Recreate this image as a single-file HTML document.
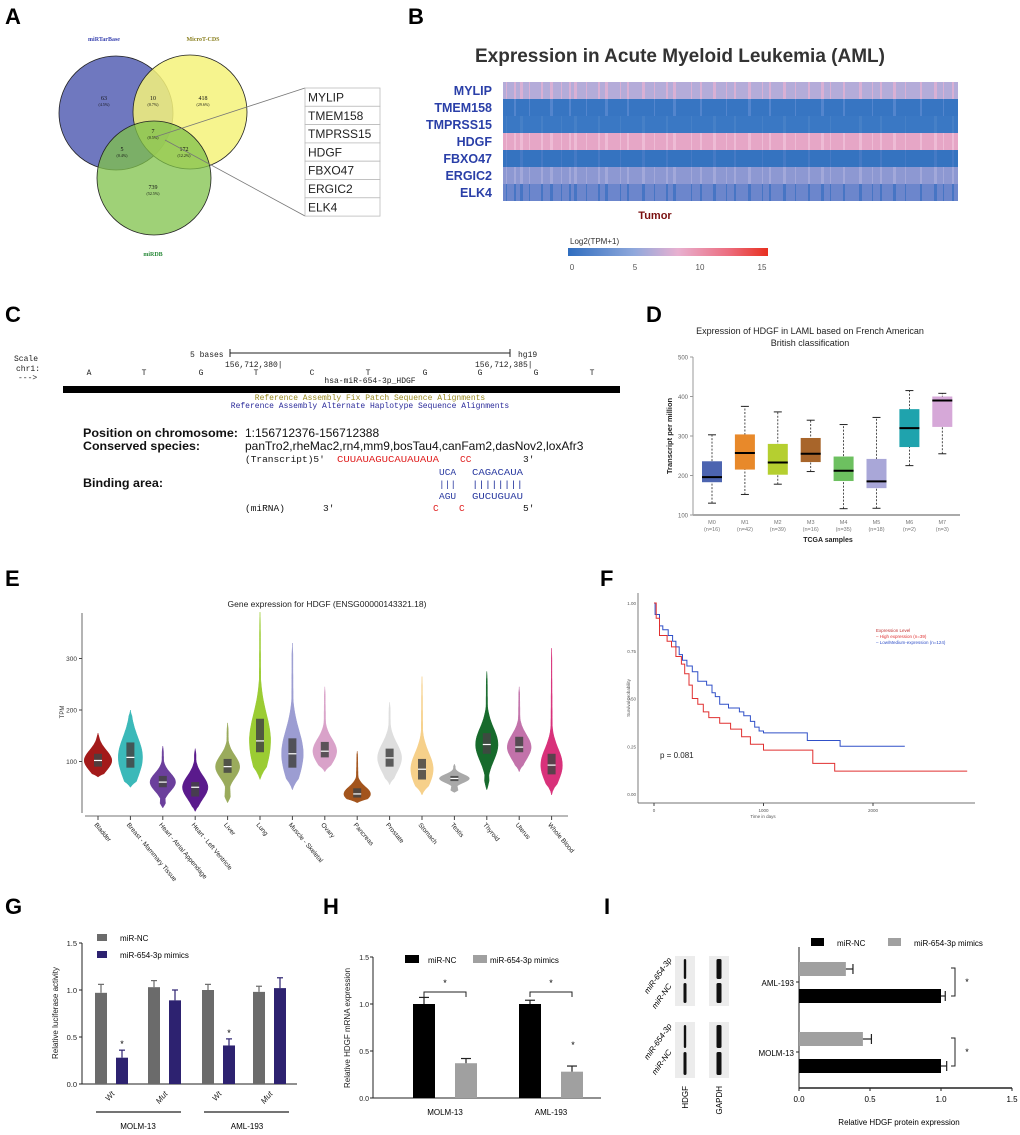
<!DOCTYPE html>
<html><head><meta charset="utf-8"><style>
html,body{margin:0;padding:0;background:#fff}
svg{display:block;font-family:"Liberation Sans",sans-serif}
.mono{font-family:"Liberation Mono",monospace}
.serif{font-family:"Liberation Serif",serif}
</style></head><body>
<svg id="fig" width="1020" height="1135" viewBox="0 0 1020 1135" xmlns="http://www.w3.org/2000/svg">
<rect width="1020" height="1135" fill="#fff"/>
<g font-size="22" font-weight="bold" fill="#000">
<text x="5" y="24">A</text>
<text x="408" y="24">B</text>
<text x="5" y="322">C</text>
<text x="646" y="322">D</text>
<text x="5" y="586">E</text>
<text x="600" y="586">F</text>
<text x="5" y="914">G</text>
<text x="323" y="914">H</text>
<text x="604" y="914">I</text>
</g>

<g class="serif">
<circle cx="116" cy="113" r="57" fill="#6f78bf" stroke="#222" stroke-width="0.8"/>
<circle cx="190" cy="112" r="57" fill="#f4f27a" fill-opacity="0.85" stroke="#222" stroke-width="0.8"/>
<circle cx="154" cy="178" r="57" fill="#7fc24a" fill-opacity="0.75" stroke="#222" stroke-width="0.8"/>
<text x="104" y="41" font-size="6" fill="#3a44b0" text-anchor="middle" font-weight="bold">miRTarBase</text>
<text x="203" y="41" font-size="6" fill="#8a8020" text-anchor="middle" font-weight="bold">MicroT-CDS</text>
<text x="153" y="256" font-size="6" fill="#2a8a3a" text-anchor="middle" font-weight="bold">miRDB</text>
<g font-size="6" text-anchor="middle" fill="#111">
<text x="104" y="100">63</text><text x="104" y="106" font-size="4">(4.5%)</text>
<text x="153" y="100">10</text><text x="153" y="106" font-size="4">(0.7%)</text>
<text x="203" y="100">418</text><text x="203" y="106" font-size="4">(29.6%)</text>
<text x="153" y="133">7</text><text x="153" y="139" font-size="4">(0.5%)</text>
<text x="122" y="151">5</text><text x="122" y="157" font-size="4">(0.4%)</text>
<text x="184" y="151">172</text><text x="184" y="157" font-size="4">(12.2%)</text>
<text x="153" y="189">739</text><text x="153" y="195" font-size="4">(52.5%)</text>
</g>
<line x1="155" y1="137" x2="305" y2="88" stroke="#777" stroke-width="0.8"/>
<line x1="165" y1="140" x2="305" y2="216" stroke="#777" stroke-width="0.8"/>
</g>
<g id="genebox"></g>

<g>
<text x="680" y="62" font-size="19" font-weight="bold" fill="#333" text-anchor="middle">Expression in Acute Myeloid Leukemia (AML)</text>
<g id="heat"></g>
<text x="655" y="219" font-size="11" font-weight="bold" fill="#7a1010" text-anchor="middle">Tumor</text>
<text x="570" y="244" font-size="8" fill="#333">Log2(TPM+1)</text>
<defs><linearGradient id="cbar"><stop offset="0" stop-color="#2f6dbf"/><stop offset="0.33" stop-color="#8fa8dc"/><stop offset="0.55" stop-color="#e8b0d0"/><stop offset="0.8" stop-color="#ec6e80"/><stop offset="1" stop-color="#e83020"/></linearGradient></defs>
<rect x="568" y="248" width="200" height="8" fill="url(#cbar)"/>
<g font-size="8" fill="#555" text-anchor="middle"><text x="572" y="270">0</text><text x="635" y="270">5</text><text x="700" y="270">10</text><text x="762" y="270">15</text></g>
</g>

<g>
<g class="mono" font-size="8" fill="#222">
<text x="14" y="361">Scale</text><text x="16" y="371">chr1:</text><text x="18" y="380">---&gt;</text>
<text x="190" y="357">5 bases</text><text x="518" y="357">hg19</text>
<text x="225" y="367">156,712,380|</text><text x="475" y="367">156,712,385|</text>
<g text-anchor="middle"><text x="89" y="375">A</text><text x="144" y="375">T</text><text x="201" y="375">G</text><text x="256" y="375">T</text><text x="312" y="375">C</text><text x="368" y="375">T</text><text x="425" y="375">G</text><text x="480" y="375">G</text><text x="536" y="375">G</text><text x="592" y="375">T</text>
<text x="370" y="383">hsa-miR-654-3p_HDGF</text>
<text x="370" y="400" fill="#9a8a20">Reference Assembly Fix Patch Sequence Alignments</text>
<text x="370" y="408" fill="#2a2a9a">Reference Assembly Alternate Haplotype Sequence Alignments</text></g>
</g>
<line x1="230" y1="353" x2="510" y2="353" stroke="#222"/><line x1="230" y1="349" x2="230" y2="357" stroke="#222"/><line x1="510" y1="349" x2="510" y2="357" stroke="#222"/>
<rect x="63" y="386" width="557" height="7" fill="#000"/>
<g font-size="12" fill="#111">
<text x="83" y="437" font-weight="bold" textLength="155" lengthAdjust="spacingAndGlyphs">Position on chromosome:</text>
<text x="245" y="437">1:156712376-156712388</text>
<text x="83" y="450" font-weight="bold" textLength="117" lengthAdjust="spacingAndGlyphs">Conserved species:</text>
<text x="245" y="450">panTro2,rheMac2,rn4,mm9,bosTau4,canFam2,dasNov2,loxAfr3</text>
<text x="83" y="487" font-weight="bold" textLength="80" lengthAdjust="spacingAndGlyphs">Binding area:</text>
</g>
<g class="mono" font-size="9.5" fill="#111">
<text x="245" y="462">(Transcript)5'</text>
<text x="337" y="462" fill="#e02020" textLength="102" lengthAdjust="spacingAndGlyphs">CUUAUAGUCAUAUAUA</text>
<text x="460" y="462" fill="#e02020">CC</text><text x="523" y="462">3'</text>
<text x="439" y="475" fill="#2a3aa0">UCA</text><text x="472" y="475" fill="#2a3aa0" textLength="51" lengthAdjust="spacingAndGlyphs">CAGACAUA</text>
<text x="439" y="487" fill="#2a3aa0">|||</text><text x="472" y="487" fill="#2a3aa0" textLength="51" lengthAdjust="spacingAndGlyphs">||||||||</text>
<text x="439" y="499" fill="#2a3aa0">AGU</text><text x="472" y="499" fill="#2a3aa0" textLength="51" lengthAdjust="spacingAndGlyphs">GUCUGUAU</text>
<text x="245" y="511">(miRNA)</text><text x="323" y="511">3'</text>
<text x="433" y="511" fill="#e02020">C</text><text x="459" y="511" fill="#e02020">C</text><text x="523" y="511">5'</text>
</g>
</g>

<g id="pD"></g>
<g id="pE"></g>
<g id="pF"></g>
<g id="pG"></g>
<g id="pH"></g>
<g id="pI"></g>
</svg>
<script>
const NS="http://www.w3.org/2000/svg";
function mk(tag,attrs,parent,txt){const e=document.createElementNS(NS,tag);for(const k in attrs)e.setAttribute(k,attrs[k]);if(txt!==undefined)e.textContent=txt;parent.appendChild(e);return e;}

const genes=["MYLIP","TMEM158","TMPRSS15","HDGF","FBXO47","ERGIC2","ELK4"];
const gb=document.getElementById('genebox');
genes.forEach((g,i)=>{const y=88+i*18.3;
 const r=mk('rect',{x:305,y:y,width:75,height:18.3,fill:'#fff',stroke:'#bbb','stroke-width':0.8},gb);
 
 
 mk('text',{x:308,y:y+13.5,'font-size':12,fill:'#222'},gb,g);});

const heatGenes=["MYLIP","TMEM158","TMPRSS15","HDGF","FBXO47","ERGIC2","ELK4"];
const heatBase=["#b4acd9","#3775c2","#3a78c4","#e6a6c6","#3573c0","#8d98d2","#6c86cc"];
const heatAlt=["#e2b2d2","#5a8ad0","#4a82c8","#f0c0d8","#4a7cc6","#a8acdc","#3f70c2"];
const stripePos=[3,11,17,26,38,47,58,66,71,83,95,102,117,124,139,151,163,170,188,197,210,223,231,245,259,266,280,292,305,318,327,340,356,369,377,390,402,417,431,440,449];
const H=document.getElementById('heat');
heatGenes.forEach((g,i)=>{const y=82+i*17;
 const r=mk('rect',{x:503,y:y,width:455,height:17,fill:heatBase[i]},H);
 
 
 stripePos.forEach((p,j)=>{if((j+i)%2===0||i===0||i===3||i===5||i===6) mk('rect',{x:503+p,y:y,width:(j%3)+1,height:17,fill:heatAlt[i],opacity:0.8},H);});
 const t=mk('text',{x:492,y:y+13,'font-size':12.5,'font-weight':'bold',fill:'#2a3fa8','text-anchor':'end'},H,g);
 
 
});

const dCats=["M0","M1","M2","M3","M4","M5","M6","M7"];
const dN=["(n=16)","(n=42)","(n=39)","(n=16)","(n=35)","(n=18)","(n=2)","(n=3)"];
const dMin=[130,152,178,210,116,117,225,255];
const dQ1=[183,215,202,234,186,168,272,323];
const dMed=[196,257,233,255,212,185,320,390];
const dQ3=[236,304,280,295,248,242,368,400];
const dMax=[303,375,361,340,329,347,415,408];
const dColors=["#4c64b0","#e8892a","#b5cf30","#a8652a","#6dc060","#a9a7d8","#1fa3ad","#d6a8d8"];
const dTicks=[100,200,300,400,500];
(function(){const P=document.getElementById('pD');
 const y=v=>515-(v-100)*(158/400), x=i=>712+i*32.9;
 mk('text',{x:810,y:334,'font-size':9,'text-anchor':'middle',fill:'#222'},P,'Expression of HDGF in LAML based on French American');
 mk('text',{x:810,y:346,'font-size':9,'text-anchor':'middle',fill:'#222'},P,'British classification');
 mk('line',{x1:693,y1:357,x2:693,y2:515,stroke:'#999'},P);
 mk('line',{x1:693,y1:515,x2:960,y2:515,stroke:'#aaa','stroke-width':2},P);
 dTicks.forEach(t=>{mk('line',{x1:690,y1:y(t),x2:693,y2:y(t),stroke:'#999'},P);mk('text',{x:688,y:y(t)+2.5,'font-size':6,fill:'#666','text-anchor':'end'},P,t);});
 const yl=mk('text',{x:0,y:0,'font-size':7.5,'font-weight':'bold',fill:'#222','text-anchor':'middle',transform:'translate(672,436) rotate(-90)'},P,'Transcript per million');
 
 
 dCats.forEach((c,i)=>{const cx=x(i);
  mk('line',{x1:cx,y1:y(dMin[i]),x2:cx,y2:y(dMax[i]),stroke:'#222','stroke-dasharray':'2,1.5','stroke-width':0.8},P);
  mk('line',{x1:cx-4,y1:y(dMin[i]),x2:cx+4,y2:y(dMin[i]),stroke:'#222'},P);
  mk('line',{x1:cx-4,y1:y(dMax[i]),x2:cx+4,y2:y(dMax[i]),stroke:'#222'},P);
  const b=mk('rect',{x:cx-10,y:y(dQ3[i]),width:20,height:y(dQ1[i])-y(dQ3[i]),fill:dColors[i]},P);
  
  
  mk('line',{x1:cx-10,y1:y(dMed[i]),x2:cx+10,y2:y(dMed[i]),stroke:'#000','stroke-width':2},P);
  mk('text',{x:cx,y:524,'font-size':5.5,fill:'#777','text-anchor':'middle'},P,c);
  mk('text',{x:cx,y:531,'font-size':5.5,fill:'#777','text-anchor':'middle'},P,dN[i]);
 });
 mk('text',{x:828,y:542,'font-size':7,'font-weight':'bold',fill:'#222','text-anchor':'middle'},P,'TCGA samples');
})();

const eCats=["Bladder","Breast - Mammary Tissue","Heart - Atrial Appendage","Heart - Left Ventricle","Liver","Lung","Muscle - Skeletal","Ovary","Pancreas","Prostate","Stomach","Testis","Thyroid","Uterus","Whole Blood"];
const eMin=[70,50,10,3,20,65,45,80,20,55,35,40,45,80,35];
const eQ1=[90,88,50,32,78,118,88,108,30,90,65,62,115,118,75];
const eMed=[102,108,60,50,90,140,115,120,37,107,85,67,133,128,93];
const eQ3=[115,137,72,60,105,183,145,138,48,125,105,72,155,148,115];
const eMax=[155,200,130,125,175,390,330,245,120,215,265,95,275,245,320];
const eColors=["#a31a1a","#3bb9b9","#6b3f9c","#5a1a8c","#9aab5c","#9bcc33","#9c9dd2","#d9a2c9","#a3541c","#dedede","#f6d08a","#a9a9a9","#176a2c","#c272aa","#d8317a"];
const eTicks=[100,200,300];
(function(){const P=document.getElementById('pE');
 const y=v=>813-v*0.515, x=i=>98+i*32.4;
 mk('text',{x:327,y:607,'font-size':8.5,fill:'#222','text-anchor':'middle'},P,'Gene expression for HDGF (ENSG00000143321.18)');
 mk('line',{x1:82,y1:613,x2:82,y2:813,stroke:'#444','stroke-width':0.8},P);
 mk('line',{x1:85,y1:816,x2:568,y2:816,stroke:'#444','stroke-width':0.8},P);
 eTicks.forEach(t=>{mk('line',{x1:79,y1:y(t),x2:82,y2:y(t),stroke:'#444'},P);mk('text',{x:77,y:y(t)+2.5,'font-size':6.5,fill:'#333','text-anchor':'end'},P,t);});
 mk('text',{x:0,y:0,'font-size':6,fill:'#333','text-anchor':'middle',transform:'translate(64,712) rotate(-90)'},P,'TPM');
 eCats.forEach((c,i)=>{const cx=x(i);const sd=Math.max((eQ3[i]-eQ1[i])*0.8,8);
  const W=Math.min(15,9+600/(eMax[i]-eMin[i]+40));
  const L=[],R=[];const N=40;
  for(let k=0;k<=N;k++){const v=eMin[i]+(eMax[i]-eMin[i])*k/N;
   let w=Math.exp(-0.5*Math.pow((v-eMed[i])/sd,2));w=Math.max(w,0.12*Math.exp(-(v-eMed[i])/(sd*4)));
   const e=Math.min(k,N-k)/3;w*=Math.min(1,e);
   L.push((cx-W*w).toFixed(1)+','+y(v).toFixed(1));R.unshift((cx+W*w).toFixed(1)+','+y(v).toFixed(1));}
  const p=mk('polygon',{points:L.concat(R).join(' '),fill:eColors[i],stroke:eColors[i],'stroke-width':0.5},P);
  
  
  mk('rect',{x:cx-4,y:y(eQ3[i]),width:8,height:y(eQ1[i])-y(eQ3[i]),fill:'#444',opacity:0.85},P);
  mk('line',{x1:cx-4,y1:y(eMed[i]),x2:cx+4,y2:y(eMed[i]),stroke:'#fff','stroke-width':1.2},P);
  mk('line',{x1:cx,y1:816,x2:cx,y2:820,stroke:'#444'},P);
  mk('text',{x:0,y:0,'font-size':6.5,fill:'#222',transform:`translate(${cx-4},${825}) rotate(50)`},P,c);
 });
})();

const kmBlueT=[0,10,50,80,130,170,200,230,260,300,350,400,480,530,560,600,680,780,820,880,920,960,1000,1400,1700,2290];
const kmBlueS=[1.0,0.94,0.88,0.86,0.83,0.80,0.77,0.73,0.70,0.67,0.64,0.59,0.57,0.53,0.51,0.47,0.45,0.43,0.41,0.38,0.35,0.33,0.32,0.28,0.25,0.25];
const kmRedT=[0,20,50,120,160,200,250,280,320,350,400,450,500,600,700,800,880,1000,1450,1650,2860];
const kmRedS=[1.0,0.92,0.83,0.80,0.77,0.72,0.68,0.63,0.57,0.50,0.47,0.43,0.40,0.37,0.34,0.30,0.26,0.23,0.16,0.12,0.12];
const fYTicks=["0.00","0.25","0.50","0.75","1.00"];
const fXTicks=[0,1000,2000];
(function(){const P=document.getElementById('pF');
 const x=t=>654+t*0.1095, y=s=>794-s*191;
 mk('line',{x1:638,y1:593,x2:638,y2:803,stroke:'#444','stroke-width':0.7},P);
 mk('line',{x1:638,y1:803,x2:975,y2:803,stroke:'#444','stroke-width':0.7},P);
 fYTicks.forEach(t=>{mk('text',{x:636,y:y(+t)+2,'font-size':4.5,fill:'#555','text-anchor':'end'},P,t);});
 fXTicks.forEach(t=>{mk('line',{x1:x(t),y1:803,x2:x(t),y2:806,stroke:'#444'},P);mk('text',{x:x(t),y:812,'font-size':4.5,fill:'#555','text-anchor':'middle'},P,t);});
 mk('text',{x:763,y:818,'font-size':4.5,fill:'#555','text-anchor':'middle'},P,'Time in days');
 mk('text',{x:0,y:0,'font-size':4.5,fill:'#555','text-anchor':'middle',transform:'translate(630,698) rotate(-90)'},P,'Survival probability');
 function step(T,S,col,name){let d='M'+x(T[0])+','+y(S[0]);for(let k=1;k<T.length;k++){d+=' H'+x(T[k]).toFixed(1)+' V'+y(S[k]).toFixed(1);}
  const p=mk('path',{d:d,fill:'none',stroke:col,'stroke-width':1},P);
  
  }
 step(kmBlueT,kmBlueS,'#3050c8','km-low-medium-expression');
 step(kmRedT,kmRedS,'#e03030','km-high-expression');
 mk('text',{x:660,y:758,'font-size':8,fill:'#222'},P,'p = 0.081');
 mk('text',{x:876,y:632,'font-size':4.5,fill:'#c03030'},P,'Expression Level');
 mk('text',{x:876,y:638,'font-size':4.5,fill:'#e03030'},P,'– High expression (n=39)');
 mk('text',{x:876,y:644,'font-size':4.5,fill:'#3050c8'},P,'– Low/Medium-expression (n=124)');
})();

const gCats=["Wt","Mut","Wt","Mut"];
const gNC=[0.97,1.03,1.00,0.98];
const gNCerr=[0.09,0.07,0.06,0.06];
const gMim=[0.28,0.89,0.41,1.02];
const gMimErr=[0.08,0.11,0.07,0.11];
const gTicks=["0.0","0.5","1.0","1.5"];
(function(){const P=document.getElementById('pG');
 const y=v=>1084-v*94, gx=[101,154,208,259];
 mk('line',{x1:82,y1:943,x2:82,y2:1084,stroke:'#222'},P);
 mk('line',{x1:82,y1:1084,x2:297,y2:1084,stroke:'#222'},P);
 gTicks.forEach(t=>{mk('line',{x1:79,y1:y(+t),x2:82,y2:y(+t),stroke:'#222'},P);mk('text',{x:77,y:y(+t)+3,'font-size':7.5,fill:'#222','text-anchor':'end'},P,t);});
 mk('text',{x:0,y:0,'font-size':8,fill:'#222','text-anchor':'middle',transform:'translate(58,1013) rotate(-90)'},P,'Relative luciferase activity');
 gCats.forEach((c,i)=>{
  [[gNC,gNCerr,'#6b6b6b',0,'bar-mir-nc'],[gMim,gMimErr,'#2d2270',21,'bar-mir-654-mimics']].forEach(([V,E,col,off,nm])=>{
   const bx=gx[i]+off-6;
   const r=mk('rect',{x:bx,y:y(V[i]),width:12,height:1084-y(V[i]),fill:col},P);
   
   
   mk('line',{x1:bx+6,y1:y(V[i]),x2:bx+6,y2:y(V[i]+E[i]),stroke:col,'stroke-width':1.2},P);
   mk('line',{x1:bx+3,y1:y(V[i]+E[i]),x2:bx+9,y2:y(V[i]+E[i]),stroke:col,'stroke-width':1.2},P);
  });
  mk('text',{x:0,y:0,'font-size':8,'font-style':'italic',fill:'#222','text-anchor':'end',transform:`translate(${gx[i]+14},1094) rotate(-50)`},P,c);
 });
 [0,2].forEach(i=>mk('text',{x:gx[i]+21,y:y(gMim[i]+gMimErr[i])-3,'font-size':9,'text-anchor':'middle'},P,'*'));
 mk('line',{x1:96,y1:1112,x2:181,y2:1112,stroke:'#222','stroke-width':1.2},P);
 mk('line',{x1:204,y1:1112,x2:289,y2:1112,stroke:'#222','stroke-width':1.2},P);
 mk('text',{x:138,y:1129,'font-size':8,'text-anchor':'middle'},P,'MOLM-13');
 mk('text',{x:247,y:1129,'font-size':8,'text-anchor':'middle'},P,'AML-193');
 mk('rect',{x:97,y:934,width:10,height:7,fill:'#6b6b6b'},P);mk('text',{x:120,y:941,'font-size':8},P,'miR-NC');
 mk('rect',{x:97,y:951,width:10,height:7,fill:'#2d2270'},P);mk('text',{x:120,y:958,'font-size':8},P,'miR-654-3p mimics');
})();

const hCats=["MOLM-13","AML-193"];
const hNC=[1.0,1.0];
const hNCerr=[0.07,0.04];
const hMim=[0.37,0.28];
const hMimErr=[0.05,0.06];
const hTicks=["0.0","0.5","1.0","1.5"];
(function(){const P=document.getElementById('pH');
 const y=v=>1098-v*94, gx=[424,530];
 mk('line',{x1:373,y1:957,x2:373,y2:1098,stroke:'#222'},P);
 mk('line',{x1:373,y1:1098,x2:601,y2:1098,stroke:'#222'},P);
 hTicks.forEach(t=>{mk('line',{x1:370,y1:y(+t),x2:373,y2:y(+t),stroke:'#222'},P);mk('text',{x:369,y:y(+t)+3,'font-size':7,fill:'#222','text-anchor':'end'},P,t);});
 mk('text',{x:0,y:0,'font-size':8,fill:'#222','text-anchor':'middle',transform:'translate(350,1028) rotate(-90)'},P,'Relative HDGF mRNA expression');
 hCats.forEach((c,i)=>{
  [[hNC,hNCerr,'#000',0,'bar-mir-nc'],[hMim,hMimErr,'#a0a0a0',42,'bar-mir-654-mimics']].forEach(([V,E,col,off,nm])=>{
   const bx=gx[i]+off-11;
   const r=mk('rect',{x:bx,y:y(V[i]),width:22,height:1098-y(V[i]),fill:col},P);
   
   
   mk('line',{x1:bx+11,y1:y(V[i]),x2:bx+11,y2:y(V[i]+E[i]),stroke:'#222','stroke-width':1.2},P);
   mk('line',{x1:bx+6,y1:y(V[i]+E[i]),x2:bx+16,y2:y(V[i]+E[i]),stroke:'#222','stroke-width':1.2},P);
  });
  mk('path',{d:`M${gx[i]},997 V992 H${gx[i]+42} V997`,fill:'none',stroke:'#222'},P);
  mk('text',{x:gx[i]+21,y:986,'font-size':9,'text-anchor':'middle'},P,'*');
  mk('text',{x:gx[i]+21,y:1115,'font-size':8,'text-anchor':'middle'},P,c);
 });
 mk('text',{x:573,y:1048,'font-size':9,'text-anchor':'middle'},P,'*');
 mk('rect',{x:405,y:955,width:14,height:8,fill:'#000'},P);mk('text',{x:428,y:963,'font-size':8},P,'miR-NC');
 mk('rect',{x:473,y:955,width:14,height:8,fill:'#a0a0a0'},P);mk('text',{x:490,y:963,'font-size':8},P,'miR-654-3p mimics');
})();

const iCats=["AML-193","MOLM-13"];
const iNC=[1.0,1.0];
const iNCerr=[0.03,0.04];
const iMim=[0.33,0.45];
const iMimErr=[0.05,0.06];
const iTicks=["0.0","0.5","1.0","1.5"];
(function(){const P=document.getElementById('pI');
 [[956,1006],[1022,1078]].forEach(([t,b])=>{
  [685,719].forEach((bx,j)=>{mk('rect',{x:bx-10,y:t,width:20,height:b-t,fill:'#ececec'},P);
   const m=(t+b)/2;
   mk('rect',{x:bx-(j?2.5:1.2),y:t+3,width:j?5:2.4,height:m-t-5,rx:1.5,fill:'#111'},P);
   mk('rect',{x:bx-(j?2.5:1.5),y:m+2,width:j?5:3,height:b-m-5,rx:1.5,fill:'#111'},P);});
  mk('text',{x:0,y:0,'font-size':8,'font-style':'italic','text-anchor':'end',transform:`translate(672,${t+4}) rotate(-55)`},P,'miR-654-3p');
  mk('text',{x:0,y:0,'font-size':8,'font-style':'italic','text-anchor':'end',transform:`translate(672,${t+30}) rotate(-55)`},P,'miR-NC');
 });
 mk('text',{x:0,y:0,'font-size':8,'text-anchor':'end',transform:'translate(688,1086) rotate(-90)'},P,'HDGF');
 mk('text',{x:0,y:0,'font-size':8,'text-anchor':'end',transform:'translate(722,1086) rotate(-90)'},P,'GAPDH');
 const x=v=>799+v*142, gy=[962,1032];
 mk('line',{x1:799,y1:947,x2:799,y2:1088,stroke:'#222'},P);
 mk('line',{x1:799,y1:1088,x2:1012,y2:1088,stroke:'#222','stroke-width':1.5},P);
 iTicks.forEach(t=>{mk('line',{x1:x(+t),y1:1088,x2:x(+t),y2:1091,stroke:'#222'},P);mk('text',{x:x(+t),y:1102,'font-size':8,'text-anchor':'middle'},P,t);});
 iCats.forEach((c,i)=>{
  [[iMim,iMimErr,'#a0a0a0',0,'bar-mir-654-mimics'],[iNC,iNCerr,'#000',27,'bar-mir-nc']].forEach(([V,E,col,off,nm])=>{
   const by=gy[i]+off;
   const r=mk('rect',{x:799,y:by,width:x(V[i])-799,height:14,fill:col},P);
   
   
   mk('line',{x1:x(V[i]),y1:by+7,x2:x(V[i]+E[i]),y2:by+7,stroke:'#222','stroke-width':1.2},P);
   mk('line',{x1:x(V[i]+E[i]),y1:by+2,x2:x(V[i]+E[i]),y2:by+12,stroke:'#222','stroke-width':1.2},P);
  });
  mk('line',{x1:796,y1:gy[i]+20,x2:799,y2:gy[i]+20,stroke:'#222'},P);
  mk('text',{x:794,y:gy[i]+24,'font-size':8,'text-anchor':'end'},P,c);
  mk('path',{d:`M951,${gy[i]+6} H955 V${gy[i]+34} H951`,fill:'none',stroke:'#222'},P);
  mk('text',{x:967,y:gy[i]+23,'font-size':9,'text-anchor':'middle'},P,'*');
 });
 mk('rect',{x:811,y:938,width:13,height:8,fill:'#000'},P);mk('text',{x:837,y:946,'font-size':8},P,'miR-NC');
 mk('rect',{x:888,y:938,width:13,height:8,fill:'#a0a0a0'},P);mk('text',{x:914,y:946,'font-size':8},P,'miR-654-3p mimics');
 mk('text',{x:899,y:1125,'font-size':8,'text-anchor':'middle'},P,'Relative HDGF protein expression');
})();
</script>
</body></html>
